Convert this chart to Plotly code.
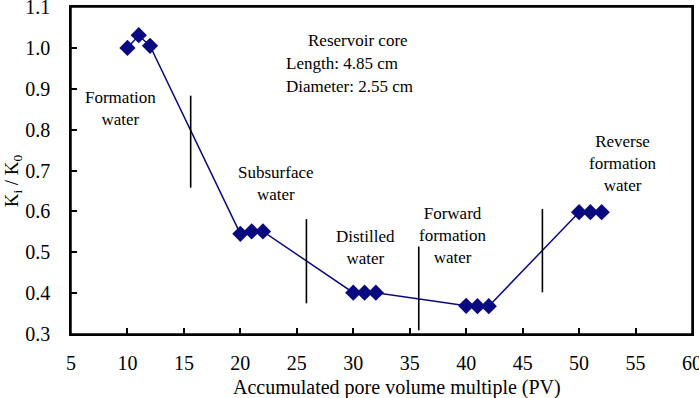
import plotly.graph_objects as go

# Data
pv = [10, 11, 12, 20, 21, 22, 30, 31, 32, 40, 41, 42, 50, 51, 52]
ki_k0 = [1.0, 1.031, 1.005, 0.545, 0.551, 0.551, 0.401, 0.401, 0.401,
         0.369, 0.368, 0.368, 0.598, 0.598, 0.598]

# Divider lines between stages (x, y_start, y_end)
div_x = [15.6, 25.85, 35.8, 46.75]
div_y0 = [0.658, 0.375, 0.309, 0.402]
div_y1 = [0.883, 0.581, 0.514, 0.606]

# Stage labels
label_text = ["Formation<br>water", "Subsurface<br>water", "Distilled<br>water",
              "Forward<br>formation<br>water", "Reverse<br>formation<br>water"]
label_x = [9.34, 23.2, 31.04, 38.84, 53.9]
label_y = [0.851, 0.668, 0.511, 0.54, 0.718]

info_text = ["Reservoir core", "Length: 4.85 cm", "Diameter: 2.55 cm"]

x_ticks = [5, 10, 15, 20, 25, 30, 35, 40, 45, 50, 55, 60]
y_ticks = [0.3, 0.4, 0.5, 0.6, 0.7, 0.8, 0.9, 1.0, 1.1]
x_title = "Accumulated pore volume multiple (PV)"
y_title = "K<sub>i</sub> / K<sub>0</sub>"

FONT = "Times New Roman, serif"
NAVY = "#0a0a80"

fig = go.Figure()
fig.add_trace(go.Scatter(
    x=pv, y=ki_k0, mode="lines+markers",
    line=dict(color=NAVY, width=1.5),
    marker=dict(symbol="diamond", size=12.5, color=NAVY),
    showlegend=False, cliponaxis=False, hoverinfo="skip"))

for x, y0, y1 in zip(div_x, div_y0, div_y1):
    fig.add_trace(go.Scatter(x=[x, x], y=[y0, y1], mode="lines",
                             line=dict(color="black", width=1.6), showlegend=False,
                             hoverinfo="skip"))

for t, x, y in zip(label_text, label_x, label_y):
    fig.add_annotation(x=x, y=y, text=t, showarrow=False, xanchor="center",
                       yanchor="middle", font=dict(family=FONT, size=17, color="black"))

fig.add_annotation(x=30.4, y=1.018, text=info_text[0], showarrow=False, xanchor="center",
                   font=dict(family=FONT, size=17, color="black"))
fig.add_annotation(x=23.9, y=0.962, text=info_text[1], showarrow=False, xanchor="left",
                   font=dict(family=FONT, size=17, color="black"))
fig.add_annotation(x=23.9, y=0.905, text=info_text[2], showarrow=False, xanchor="left",
                   font=dict(family=FONT, size=17, color="black"))

# axis titles as annotations
fig.add_annotation(x=-0.094, xref="paper", y=0.675, yref="y",
                   text=y_title, textangle=-90, showarrow=False,
                   xanchor="center", yanchor="middle",
                   font=dict(family=FONT, size=19, color="black"))
fig.add_annotation(x=0.525, xref="paper", y=-0.165, yref="paper",
                   text=x_title, showarrow=False, xanchor="center", yanchor="middle",
                   font=dict(family=FONT, size=20, color="black"))

# plot frame
fig.add_shape(type="rect", xref="paper", yref="paper", x0=0, x1=1, y0=0, y1=1,
              line=dict(color="black", width=1.5), layer="above")

fig.update_layout(
    width=699, height=398,
    margin=dict(l=71, r=7, t=7, b=64),
    plot_bgcolor="white", paper_bgcolor="white",
    font=dict(family=FONT, size=19, color="black"),
    xaxis=dict(range=[5, 60], tickvals=x_ticks, ticks="inside", ticklen=6,
               tickwidth=1.5, tickcolor="black", showline=True, mirror=True,
               linecolor="black", linewidth=1.5,
               showgrid=False, zeroline=False, ticklabeloverflow="allow",
               automargin=False, ticklabelstandoff=10,
               tickfont=dict(family=FONT, size=20)),
    yaxis=dict(range=[0.3, 1.1], tickvals=y_ticks, tickformat=".1f", ticks="inside",
               ticklen=6, tickwidth=1.5, tickcolor="black", showline=True, mirror=True,
               linecolor="black", linewidth=1.5,
               showgrid=False, zeroline=False, ticklabeloverflow="allow",
               automargin=False, ticklabelstandoff=15,
               tickfont=dict(family=FONT, size=20)),
)

fig.write_html("out.html", config={"displayModeBar": False},
               post_script="document.body.style.margin='0';document.body.style.overflow='hidden';")
